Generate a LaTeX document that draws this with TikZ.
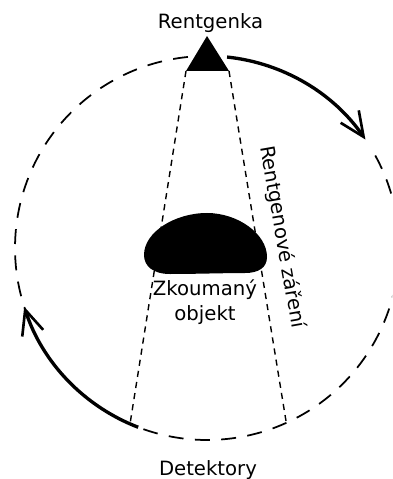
\documentclass[tikz,border=0pt]{standalone}
\usepackage{fontspec}
\setmainfont{DejaVu Sans}
\usetikzlibrary{arrows.meta}
\tikzset{
    label text/.style={font=\fontsize{11.2}{14.2}\selectfont, align=center, inner sep=0pt},
    orbit dash/.style={line width=1pt, dash pattern=on 8.5pt off 6.5pt},
    ray dash/.style={line width=0.8pt, dash pattern=on 3.5pt off 2.9pt},
    orbit arrow/.style={line width=1.9pt, -{Straight Barb[length=14pt,width=12.5pt,line width=1.5pt]}}
}
\begin{document}
\begin{tikzpicture}[x=0.02cm,y=-0.02cm]
    % Define the radius of the orbit
    \newcommand{\orbitradius}{192}
    \useasboundingbox (0,0) rectangle (392,479);
    \clip (0,0) rectangle (392,479);

    % Orbit, dashed parts
    \draw[orbit dash] (207,248) ++(28.8:\orbitradius*1 and -\orbitradius*1) arc[start angle=28.8, end angle=-110, x radius=\orbitradius, y radius=-\orbitradius];
    \draw[orbit dash] (207,248) ++(95.7:\orbitradius*1 and -\orbitradius*1) arc[start angle=95.7, end angle=199, x radius=\orbitradius, y radius=-\orbitradius];

    % Rays
    \coordinate (tubeleft) at (186,71);
    \coordinate (tuberight) at (229,71);
    \coordinate (detectorleft) at (130,424);
    \coordinate (detectorright) at (286,421);
    \draw[ray dash] (tubeleft) -- (detectorleft);
    \draw[ray dash] (tuberight) -- (detectorright);

    % Orbit arrows
    \draw[orbit arrow] (207,248) ++(84:\orbitradius*1 and -\orbitradius*1) arc[start angle=84, end angle=34.4, x radius=\orbitradius, y radius=-\orbitradius];
    \draw[orbit arrow] (207,248) ++(249:\orbitradius*1 and -\orbitradius*1) arc[start angle=249, end angle=197.8, x radius=\orbitradius, y radius=-\orbitradius];

    % X-ray tube
    \fill (207,36) -- (tuberight) -- (tubeleft) -- cycle;

    % Object
    \fill (144,255) .. controls (144,232) and (175,213) .. (207,213)
        .. controls (238,213) and (267,234) .. (267,257)
        .. controls (267,268) and (258,273) .. (245,273)
        .. controls (225,273) and (195,274) .. (170,274)
        .. controls (153,274) and (144,266) .. (144,255) -- cycle;

    % Labels
    \node[label text] (rentgenka) at (210.5,23) {Rentgenka};
    \node[label text] (zkoumany) at (205,302) {Zkoumaný\\objekt};
    \node[label text, rotate=-80] (zareni) at (282,237) {Rentgenové záření};
    \node[label text] (detektory) at (208,470) {Detektory};
\end{tikzpicture}
\end{document}
